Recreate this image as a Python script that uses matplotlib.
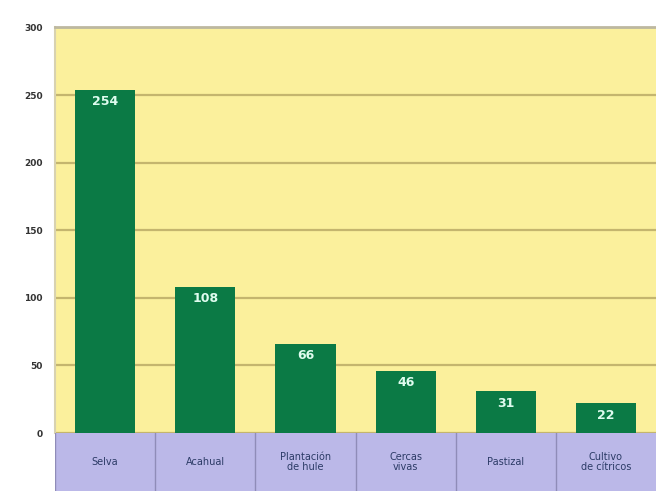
import matplotlib
matplotlib.use("Agg")
import matplotlib.pyplot as plt

categories = ["Selva", "Acahual", "Plantación\nde hule", "Cercas\nvivas", "Pastizal", "Cultivo\nde cítricos"]
values = [254, 108, 66, 46, 31, 22]
yticks = [0, 50, 100, 150, 200, 250, 300]

bg = "#fbf09c"
grid_c = "#c4b56e"
bar_c = "#0b7a45"
band_c = "#bbb8e8"

fig = plt.figure(figsize=(6.56, 4.91), dpi=100)
ax = fig.add_axes([0.084, 0.118, 0.916, 0.826])
band = fig.add_axes([0.084, 0.0, 0.916, 0.118], sharex=ax)

ax.set_facecolor(bg)
x = list(range(len(categories)))
ax.bar(x, values, width=0.6, color=bar_c, zorder=3)
for xi, v in zip(x, values):
    ax.text(xi, v - 4, str(v), ha="center", va="top", color="#dffcef",
            fontsize=9, fontweight="bold", zorder=4)

ax.set_ylim(0, 300)
ax.set_xlim(-0.5, len(categories) - 0.5)
ax.set_yticks(yticks)
ax.set_yticklabels([str(t) for t in yticks], fontsize=6.5, fontweight="bold", color="#333333")
ax.yaxis.grid(True, color=grid_c, linewidth=1.6, zorder=1)
ax.tick_params(axis="y", length=0, pad=9)
ax.tick_params(axis="x", bottom=False, labelbottom=False)
for s in ["right", "bottom"]:
    ax.spines[s].set_visible(False)
ax.spines["top"].set_color("#bdb8a0")
ax.spines["top"].set_linewidth(2)
ax.spines["left"].set_color("#d8d2b0")
ax.spines["left"].set_linewidth(1.5)

band.set_facecolor(band_c)
band.set_ylim(0, 1)
band.set_yticks([])
band.tick_params(axis="x", bottom=False, labelbottom=False)
for s in band.spines.values():
    s.set_visible(False)
for xi in x:
    band.axvline(xi - 0.5, color="#8f8cb8", linewidth=1)
for xi, c in zip(x, categories):
    band.text(xi, 0.5, c, ha="center", va="center", fontsize=7,
              color="#2c3b66", linespacing=1.0)

fig.savefig("out.png", dpi=100)
